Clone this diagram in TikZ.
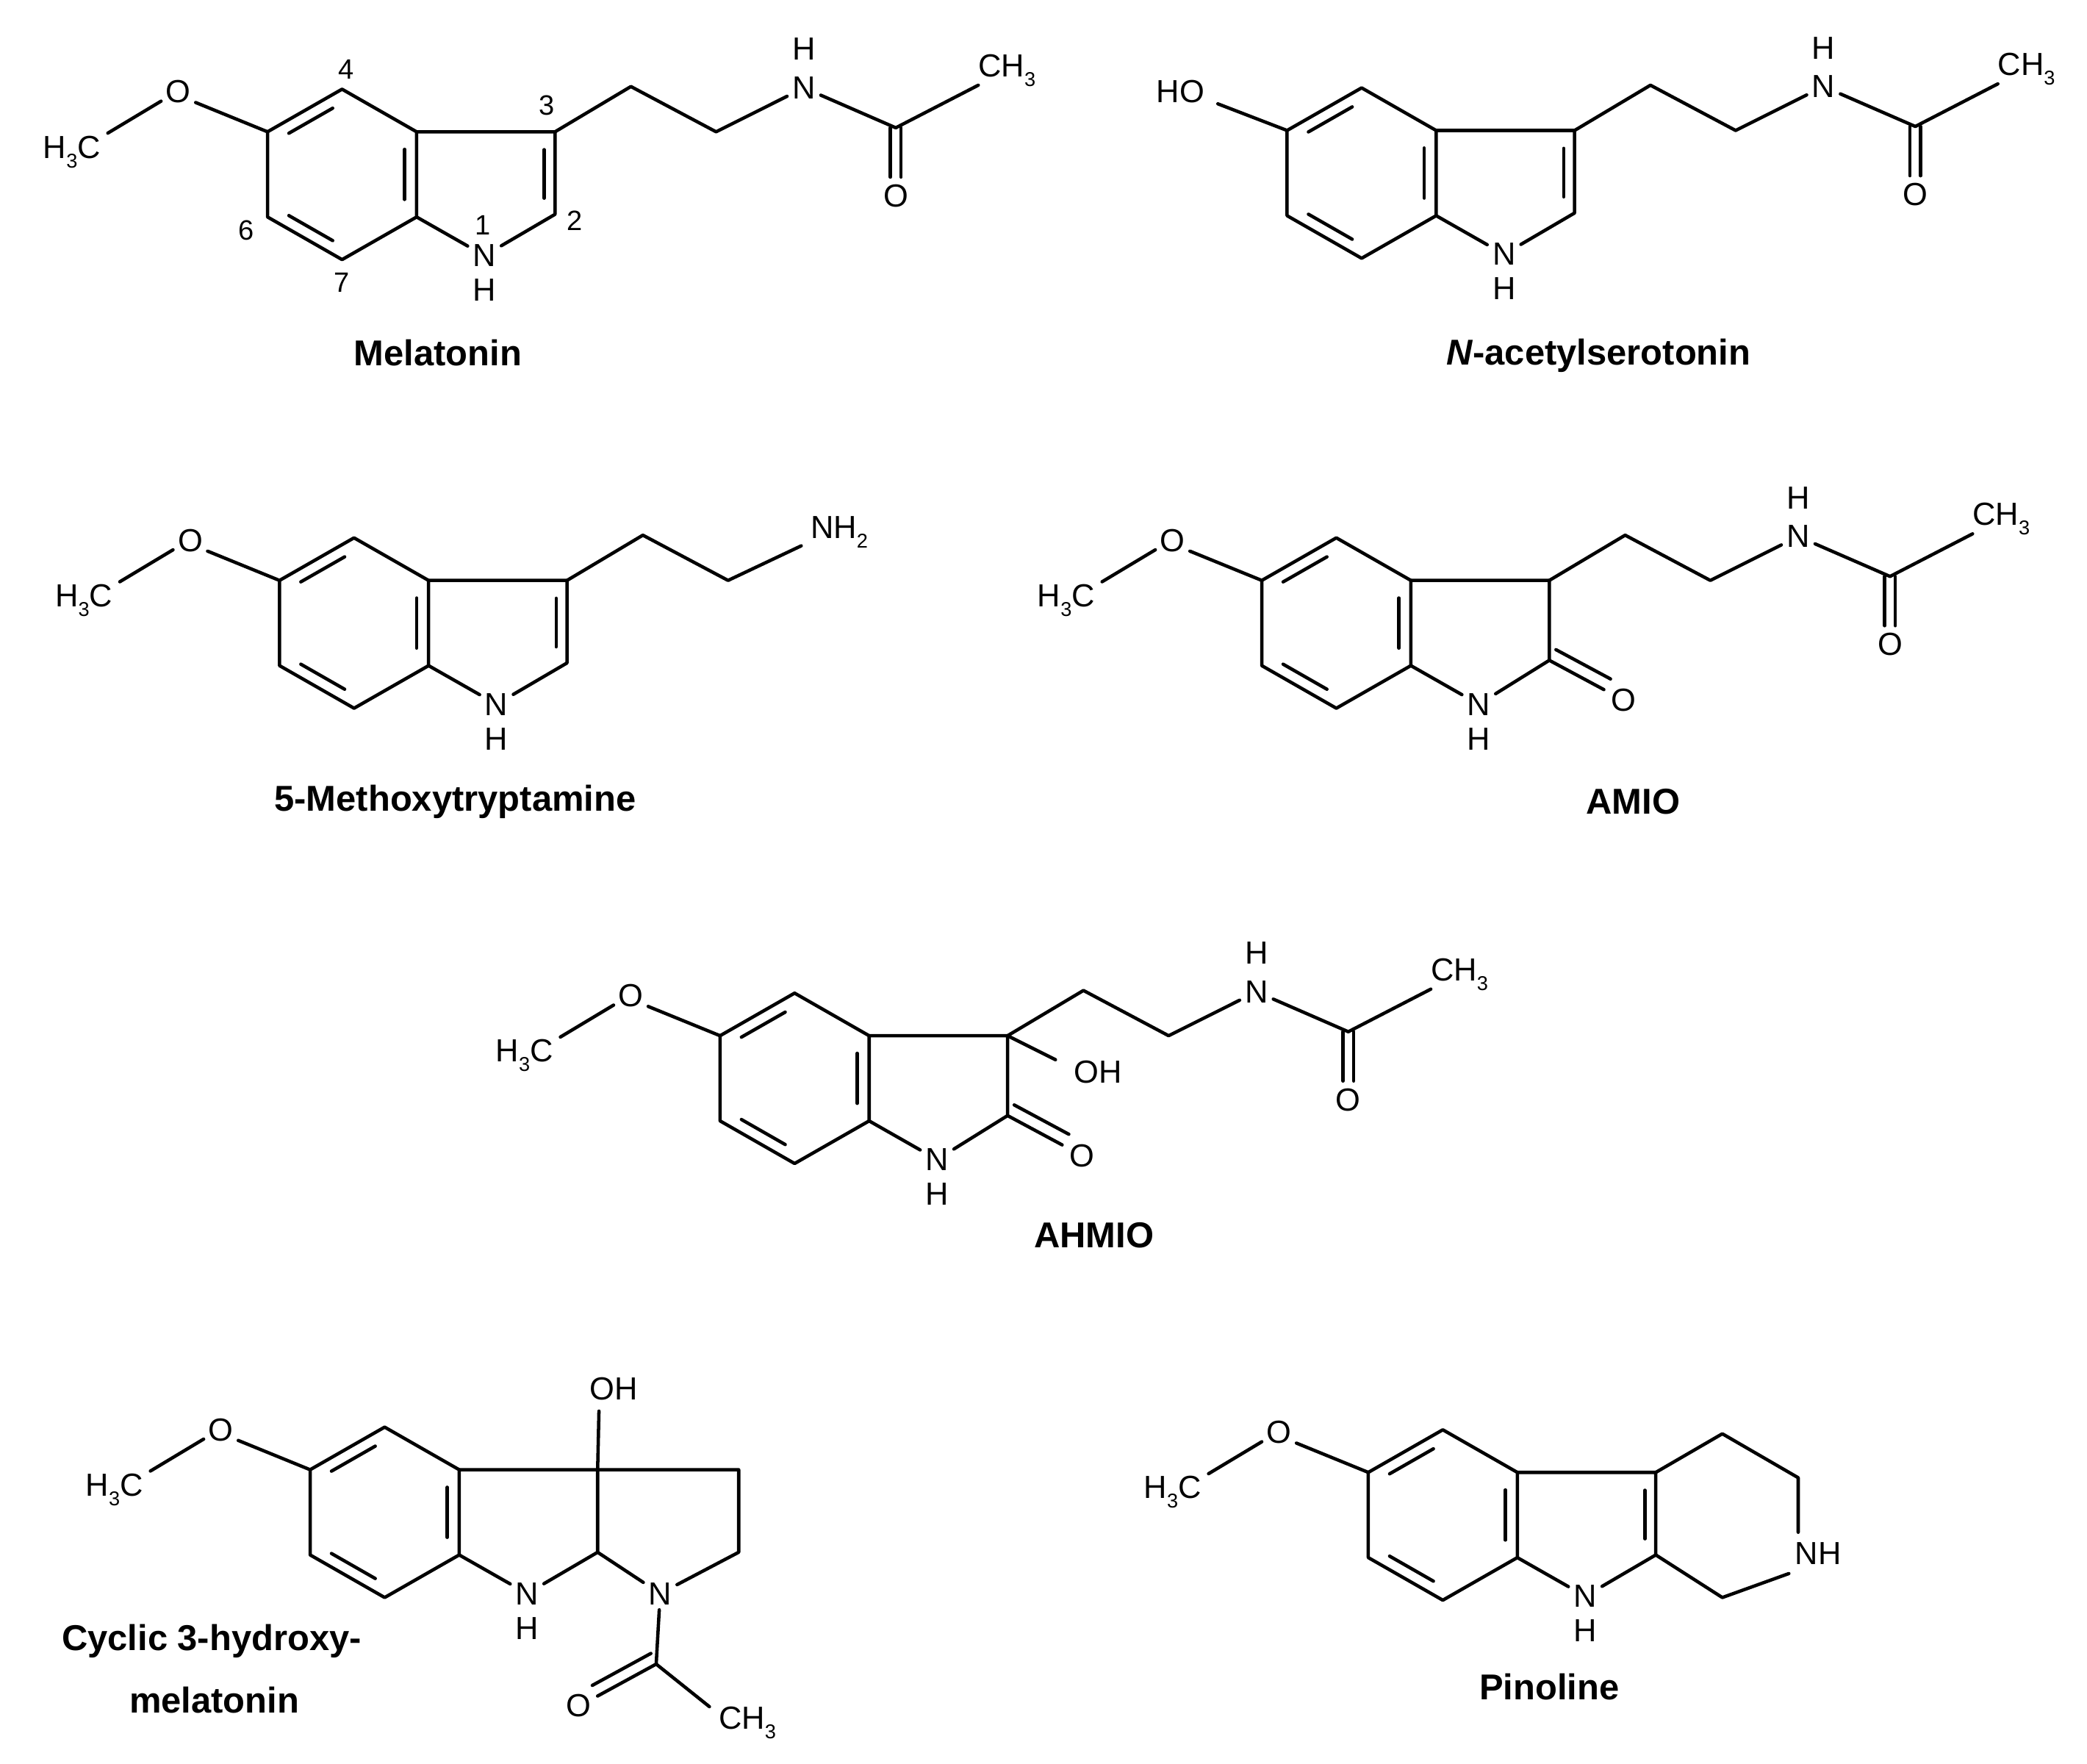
\documentclass[tikz,border=0pt]{standalone}
\usepackage{fontspec}
\setmainfont{Liberation Sans}
\usetikzlibrary{calc}
\newcommand\sub[1]{\raisebox{-0.3em}{\fontsize{15}{15}\selectfont #1}}
\tikzset{
  bond/.style={line width=2.5pt, line cap=round, line join=round},
  atom/.style={font=\fontsize{24}{24}\selectfont, inner sep=0pt, outer sep=4pt},
  num/.style={font=\fontsize{21}{21}\selectfont, inner sep=0pt},
  lbl/.style={font=\fontsize{27}{27}\selectfont\bfseries, inner sep=0pt, align=center}
}
\newcommand\benzring{%
  \coordinate (c5) at (0,0); \coordinate (c4) at (56,-32); \coordinate (c3a) at (112,0);
  \coordinate (c7a) at (112,64); \coordinate (c7) at (56,96); \coordinate (c6) at (0,64);
  \coordinate (bc) at (56,32); \coordinate (pc) at (165,35);
  \draw[bond] (c5)--(c4)--(c3a)--(c7a)--(c7)--(c6)--cycle;
  \draw[bond] ($(c5)!.15!(c4)!.16!(bc)$)--($(c4)!.15!(c5)!.16!(bc)$);
  \draw[bond] ($(c3a)!.15!(c7a)!.16!(bc)$)--($(c7a)!.15!(c3a)!.16!(bc)$);
  \draw[bond] ($(c6)!.15!(c7)!.16!(bc)$)--($(c7)!.15!(c6)!.16!(bc)$);
}
\newcommand\meo{%
  \node[atom] (ome) at (-67,-30) {O};
  \node[atom] (h3c) at (-147,15) {H\sub{3}C};
  \draw[bond] (c5)--(-54,-22);
  \draw[bond] (-120,1)--(-80,-23);
}
\newcommand\nring{%
  \node[atom] (n1) at (163,93) {N};
  \node[atom] (n1h) at (163,119) {H};
}
\newcommand\acchain{%
  \coordinate (k1) at (273,-34); \coordinate (k2) at (337,0); \coordinate (kc) at (472,-3);
  \node[atom] (na) at (403,-33) {N};
  \node[atom] (nah) at (403,-62) {H};
  \node[atom] (ko) at (472,48) {O};
  \node[atom,anchor=west] (kme) at (530,-46) {CH\sub{3}};
  \draw[bond] (c3)--(k1)--(k2)--(na)--(kc)--(534,-35);
  \draw[bond] (468,-3)--(468,34); \draw[bond] (476,-3)--(476,34);
}
\begin{document}
\begin{tikzpicture}[x=1pt,y=-1pt]
\useasboundingbox (0,0) rectangle (1568,1325);
\fill[white] (0,0) rectangle (1568,1325);

% Melatonin
\begin{scope}[shift={(201,99)}]
  \benzring \meo \nring
  \coordinate (c3) at (216,0); \coordinate (c2) at (216,62);
  \draw[bond] (c3a)--(c3)--(c2)--(n1)--(c7a);
  \draw[bond] ($(c3)!.15!(c2)!.16!(pc)$)--($(c2)!.15!(c3)!.16!(pc)$);
  \acchain
  \node[num] (l4) at (59,-47) {4};
  \node[num] (l3) at (210,-20) {3};
  \node[num] (l2) at (231,67) {2};
  \node[num] (l1) at (162,70) {1};
  \node[num] (l6) at (-16,74) {6};
  \node[num] (l7) at (56,113) {7};
\end{scope}
\node[lbl] (tmel) at (329,265) {Melatonin};

% N-acetylserotonin
\begin{scope}[shift={(967,98)}]
  \benzring \nring
  \node[atom] (ho) at (-80,-29) {HO};
  \draw[bond] (c5)--(-52,-20);
  \coordinate (c3) at (216,0); \coordinate (c2) at (216,62);
  \draw[bond] (c3a)--(c3)--(c2)--(n1)--(c7a);
  \draw[bond] ($(c3)!.15!(c2)!.16!(pc)$)--($(c2)!.15!(c3)!.16!(pc)$);
  \acchain
\end{scope}
\node[lbl] (tnas) at (1201,267) {\textit{N}-acetylserotonin};

% 5-Methoxytryptamine
\begin{scope}[shift={(210,436)}]
  \benzring \meo \nring
  \coordinate (c3) at (216,0); \coordinate (c2) at (216,62);
  \draw[bond] (c3a)--(c3)--(c2)--(n1)--(c7a);
  \draw[bond] ($(c3)!.15!(c2)!.16!(pc)$)--($(c2)!.15!(c3)!.16!(pc)$);
  \node[atom,anchor=west] (nh2) at (395,-36) {NH\sub{2}};
  \draw[bond] (c3)--(273,-34)--(337,0)--(392,-26);
\end{scope}
\node[lbl] (tmt) at (342,602) {5-Methoxytryptamine};

% AMIO
\begin{scope}[shift={(948,436)}]
  \benzring \meo \nring
  \coordinate (c3) at (216,0); \coordinate (c2) at (216,60);
  \draw[bond] (c3a)--(c3)--(c2)--(n1)--(c7a);
  \node[atom] (o2) at (272,90) {O};
  \draw[bond] (c2)--(257,82); \draw[bond] (221,52)--(262,74);
  \acchain
\end{scope}
\node[lbl] (tamio) at (1227,602) {AMIO};

% AHMIO
\begin{scope}[shift={(541,778)}]
  \benzring \meo \nring
  \coordinate (c3) at (216,0); \coordinate (c2) at (216,60);
  \draw[bond] (c3a)--(c3)--(c2)--(n1)--(c7a);
  \node[atom] (o2) at (272,90) {O};
  \draw[bond] (c2)--(257,82); \draw[bond] (221,52)--(262,74);
  \node[atom] (oh) at (284,27) {OH};
  \draw[bond] (c3)--(252,18);
  \acchain
\end{scope}
\node[lbl] (tahmio) at (822,928) {AHMIO};

% Cyclic 3-hydroxymelatonin
\begin{scope}[shift={(233,1104)}]
  \benzring \meo \nring
  \coordinate (c3) at (216,0); \coordinate (c2) at (216,62);
  \coordinate (e1) at (322,0); \coordinate (e2) at (322,62);
  \node[atom] (n2) at (263,93) {N};
  \draw[bond] (c3a)--(c3)--(e1)--(e2)--(n2)--(c2)--(c3);
  \draw[bond] (c2)--(n1)--(c7a);
  \node[atom] (oh) at (228,-61) {OH};
  \draw[bond] (c3)--(217,-44);
  \coordinate (ac) at (260,146);
  \node[atom] (ao) at (202,177) {O};
  \node[atom,anchor=west] (ame) at (303,190) {CH\sub{3}};
  \draw[bond] (n2)--(ac)--(300,178);
  \draw[bond] (ac)--(216,170); \draw[bond] (256,138)--(212,162);
\end{scope}
\node[lbl] (tcy1) at (159,1233) {Cyclic 3-hydroxy-};
\node[lbl] (tcy2) at (161,1277) {melatonin};

% Pinoline
\begin{scope}[shift={(1028,1106)}]
  \benzring \meo \nring
  \coordinate (c3) at (216,0); \coordinate (c2) at (216,62);
  \draw[bond] (c3a)--(c3)--(c2)--(n1)--(c7a);
  \draw[bond] ($(c3)!.15!(c2)!.16!(pc)$)--($(c2)!.15!(c3)!.16!(pc)$);
  \node[atom] (nh) at (338,61) {NH};
  \draw[bond] (c3)--(266,-29)--(323,4)--(323,45);
  \draw[bond] (316,76)--(266,94)--(c2);
\end{scope}
\node[lbl] (tpin) at (1164,1267) {Pinoline};
\end{tikzpicture}
\end{document}
